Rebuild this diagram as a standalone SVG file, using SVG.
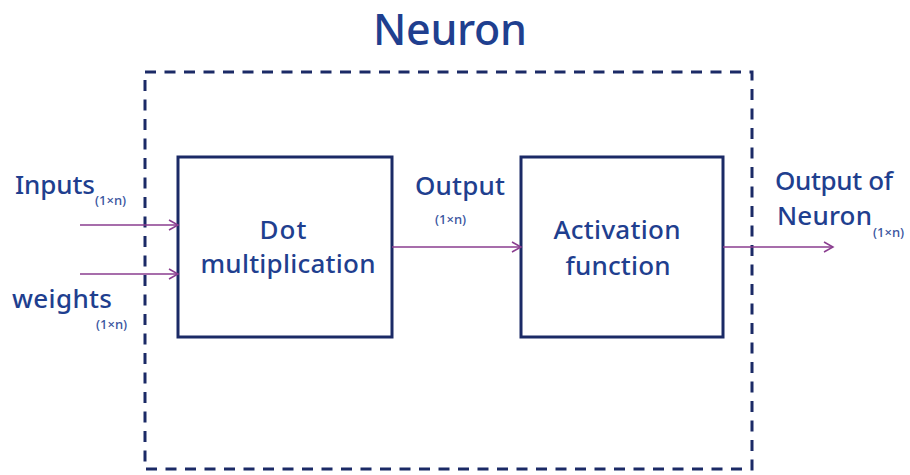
<svg xmlns="http://www.w3.org/2000/svg" width="910" height="475" viewBox="0 0 910 475">
<defs>
<style>
text{font-family:"Noto Sans","Open Sans",sans-serif;fill:#1f3f8f;font-weight:500}
.lbl{font-size:26px}
.sub{font-size:13px;fill:#3a55a0}
.box{fill:none;stroke:#1b2a66;stroke-width:3}
.cn{stroke:#8a3d8f;stroke-width:1.5;fill:none;marker-end:url(#ah)}
</style>
<marker id="ah" markerWidth="12" markerHeight="12" refX="10" refY="6" orient="auto" markerUnits="userSpaceOnUse">
<path d="M1,1 L10,6 L1,11" fill="none" stroke="#8a3d8f" stroke-width="1.5"/>
</marker>
</defs>
<rect width="910" height="475" fill="#fff"/>
<g id="neuron">
<rect x="145" y="72" width="607" height="397" fill="none" stroke="#1b2a66" stroke-width="3" stroke-dasharray="11 8.5"/>
<text x="450" y="45" text-anchor="middle" font-size="43" textLength="154">Neuron</text>
</g>
<g id="dot">
<rect class="box" x="178" y="157" width="214" height="180"/>
<text class="lbl" x="283" y="239" text-anchor="middle" textLength="47">Dot</text>
<text class="lbl" x="288" y="273" text-anchor="middle" textLength="175">multiplication</text>
</g>
<g id="activation">
<rect class="box" x="521" y="157" width="202" height="180"/>
<text class="lbl" x="617" y="239" text-anchor="middle" textLength="127">Activation</text>
<text class="lbl" x="618" y="275" text-anchor="middle" textLength="105">function</text>
</g>
<g id="labels">
<text class="lbl" x="15" y="194" textLength="80">Inputs</text><text class="sub" x="95" y="205">(1×n)</text>
<text class="lbl" x="12" y="308" textLength="100">weights</text><text class="sub" x="96" y="329">(1×n)</text>
<text class="lbl" x="415" y="195" textLength="90">Output</text><text class="sub" x="435" y="224">(1×n)</text>
<text class="lbl" x="775" y="190" textLength="118">Output of</text>
<text class="lbl" x="777" y="225" textLength="95">Neuron</text><text class="sub" x="873" y="237">(1×n)</text>
</g>
<g id="connectors">
<line class="cn" x1="80" y1="225" x2="178" y2="225"/>
<line class="cn" x1="80" y1="274" x2="178" y2="274"/>
<line class="cn" x1="392" y1="247" x2="521" y2="247"/>
<line class="cn" x1="723" y1="247" x2="833" y2="247"/>
</g>
</svg>
